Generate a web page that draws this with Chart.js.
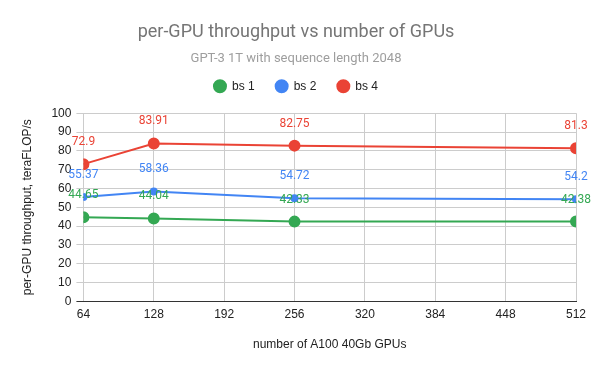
<!DOCTYPE html>
<html>
<head>
<meta charset="utf-8">
<script src="https://cdn.jsdelivr.net/npm/chart.js@4"></script>
<style>
  html, body { margin: 0; padding: 0; background: #fff; }
  #wrap { width: 600px; height: 371px; }
</style>
</head>
<body>
<div id="wrap"><canvas id="chart"></canvas></div>
<script>
// GPU counts and per-GPU throughput (teraFLOP/s) per batch size
const gpus = [64, 128, 256, 512];
const bs1 = [44.65, 44.04, 42.33, 42.38];
const bs2 = [55.37, 58.36, 54.72, 54.2];
const bs4 = [72.9, 83.91, 82.75, 81.3];

const seriesNames = ['bs 1', 'bs 2', 'bs 4'];
const seriesColors = ['#34a853', '#4285f4', '#ea4335'];

function toPoints(vals) {
  return gpus.map((g, i) => ({ x: g, y: vals[i] }));
}

// draw the value above each point, like the sheets chart does
const valueLabels = {
  id: 'valueLabels',
  afterDatasetsDraw(chart) {
    const ctx = chart.ctx;
    ctx.save();
    ctx.font = '12px Roboto, "Liberation Sans", Arial, sans-serif';
    ctx.textAlign = 'center';
    ctx.textBaseline = 'middle';
    chart.data.datasets.forEach((ds, di) => {
      const meta = chart.getDatasetMeta(di);
      ctx.fillStyle = ds.borderColor;
      meta.data.forEach((pt, i) => {
        ctx.fillText(String(ds.data[i].y), pt.x, pt.y - 22);
      });
    });
    ctx.restore();
  }
};

// a bit of extra room between the legend and the plot
const legendGap = {
  id: 'legendGap',
  beforeLayout(chart) {
    const legend = chart.legend;
    if (legend && !legend._gapWrapped) {
      const fit = legend.fit;
      legend.fit = function() {
        fit.call(this);
        this.height += 11;
      };
      legend._gapWrapped = true;
    }
  }
};

const tickFont = { family: '"Liberation Sans", Arial, sans-serif', size: 12 };

const ctx = document.getElementById('chart').getContext('2d');
new Chart(ctx, {
  type: 'line',
  data: {
    datasets: [
      { label: seriesNames[0], data: toPoints(bs1), borderColor: seriesColors[0], backgroundColor: seriesColors[0], pointRadius: 5, borderWidth: 2 },
      { label: seriesNames[1], data: toPoints(bs2), borderColor: seriesColors[1], backgroundColor: seriesColors[1], pointRadius: 3, borderWidth: 2 },
      { label: seriesNames[2], data: toPoints(bs4), borderColor: seriesColors[2], backgroundColor: seriesColors[2], pointRadius: 5, borderWidth: 2 }
    ]
  },
  options: {
    responsive: true,
    maintainAspectRatio: false,
    animation: false,
    layout: { padding: { top: 10, right: 24, left: 16, bottom: 19 } },
    plugins: {
      title: {
        display: true,
        text: 'per-GPU throughput vs number of GPUs',
        color: '#757575',
        font: { family: 'Roboto, "Liberation Sans", sans-serif', size: 18, weight: 'normal' },
        padding: { top: 12, bottom: 7 }
      },
      subtitle: {
        display: true,
        text: 'GPT-3 1T with sequence length 2048',
        color: '#9e9e9e',
        font: { family: 'Roboto, "Liberation Sans", sans-serif', size: 13 },
        padding: { top: 0, bottom: -7 }
      },
      legend: {
        labels: {
          usePointStyle: true,
          pointStyle: 'circle',
          boxWidth: 12,
          boxHeight: 8.5,
          color: '#222',
          padding: 21,
          font: tickFont
        }
      },
      tooltip: { enabled: false }
    },
    scales: {
      x: {
        type: 'linear',
        min: 64,
        max: 512,
        ticks: { stepSize: 64, padding: 6, color: '#222', font: tickFont },
        grid: { color: '#cccccc', drawTicks: false },
        border: { color: '#333' },
        title: {
          display: true,
          text: 'number of A100 40Gb GPUs',
          color: '#222',
          font: tickFont,
          padding: { top: 10, bottom: 0 }
        }
      },
      y: {
        min: 0,
        max: 100,
        ticks: { stepSize: 10, padding: 5, color: '#222', font: tickFont },
        grid: {
          color: (c) => (c.tick && c.tick.value === 0 ? '#333' : '#cccccc'),
          tickLength: 7
        },
        border: { display: false },
        title: {
          display: true,
          text: 'per-GPU throughput, teraFLOP/s',
          color: '#222',
          font: tickFont,
          padding: { top: 4, bottom: 12 }
        }
      }
    }
  },
  plugins: [valueLabels, legendGap]
});
</script>
</body>
</html>
